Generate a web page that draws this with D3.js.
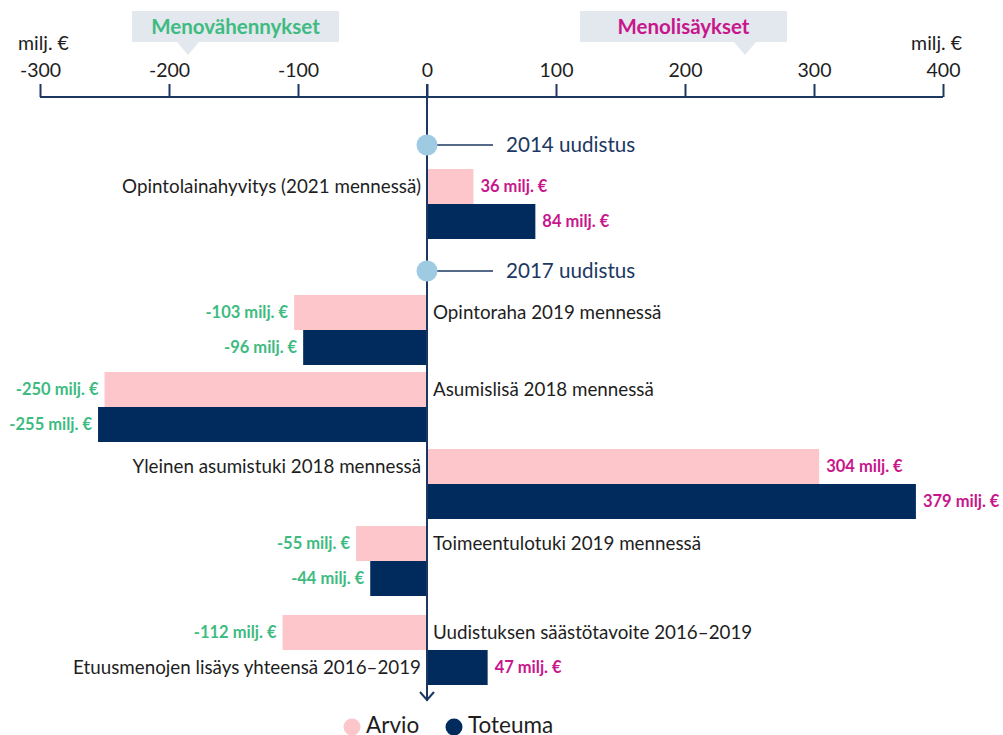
<!DOCTYPE html>
<html>
<head>
<meta charset="utf-8">
<script src="https://cdn.jsdelivr.net/npm/d3@7.9.0/dist/d3.min.js"></script>
<style>
  body { margin: 0; background: #fff; }
  svg { display: block; font-family: Lato, "Open Sans", sans-serif; }
</style>
</head>
<body>
<div id="chart"></div>
<script>
const categories = [
  'Opintolainahyvitys (2021 mennessä)',
  'Opintoraha 2019 mennessä',
  'Asumislisä 2018 mennessä',
  'Yleinen asumistuki 2018 mennessä',
  'Toimeentulotuki 2019 mennessä',
  'Uudistuksen säästötavoite 2016–2019'
];
const arvio = [36, -103, -250, 304, -55, -112];
const toteuma = [84, -96, -255, 379, -44, 47];
const toteumaLabels = [null, null, null, null, null, 'Etuusmenojen lisäys yhteensä 2016–2019'];
const milestones = ['2014 uudistus', '2017 uudistus'];
// which milestone comes before each category (index), or -1
const milestoneBefore = [0, 1, -1, -1, -1, -1];
const xTicks = [-300, -200, -100, 0, 100, 200, 300, 400];
const seriesNames = ['Arvio', 'Toteuma'];

const width = 1003, height = 735;
const colors = { Arvio: '#fdc6cb', Toteuma: '#002b5c' };
const navy = '#1c3862';
const green = '#3dbb80';
const magenta = '#c8168c';
const textCol = '#1e1e1e';

const svg = d3.select('#chart').append('svg')
  .attr('width', width).attr('height', height);

const xScale = d3.scaleLinear().domain([-300, 400]).range([40, 943]);
const axisY = 97;

// header boxes
const boxes = [
  { text: 'Menovähennykset', x0: 132, x1: 339, tip: 188, color: green },
  { text: 'Menolisäykset', x0: 580, x1: 787, tip: 745, color: magenta }
];
boxes.forEach(b => {
  svg.append('rect').attr('x', b.x0).attr('y', 11).attr('width', b.x1 - b.x0).attr('height', 31)
    .attr('fill', '#e3e7ee');
  svg.append('path').attr('d', `M${b.tip - 11},42 L${b.tip},55 L${b.tip + 11},42 Z`).attr('fill', '#e3e7ee');
  svg.append('text').attr('x', (b.x0 + b.x1) / 2).attr('y', 34).attr('text-anchor', 'middle')
    .attr('font-size', 20.5).attr('font-weight', 'bold').attr('fill', b.color).text(b.text);
});

svg.append('text').attr('x', 18).attr('y', 50).attr('font-size', 19.5).attr('fill', textCol).text('milj. €');
svg.append('text').attr('x', 962).attr('y', 50).attr('text-anchor', 'end').attr('font-size', 19.5).attr('fill', textCol).text('milj. €');

// axis
const xAxis = d3.axisTop(xScale).tickValues(xTicks).tickSize(13).tickPadding(7)
  .tickFormat(d => String(d));
const gAxis = svg.append('g').attr('transform', `translate(0,${axisY})`).call(xAxis);
gAxis.select('.domain').attr('d', `M${xScale(-300)},0H${xScale(400)}`).attr('stroke', navy).attr('stroke-width', 2);
gAxis.selectAll('.tick line').attr('stroke', navy).attr('stroke-width', 2);
gAxis.selectAll('.tick text').attr('font-size', 19.5).attr('fill', textCol).attr('font-family', 'Lato, sans-serif');

// vertical layout
const barH = 35;
const band = d3.scaleBand().domain(seriesNames).range([0, barH * 2]);
const layout = [];
let cursor = axisY;
const msPos = [];
categories.forEach((c, i) => {
  if (milestoneBefore[i] >= 0) {
    cursor += (i === 0 ? 48 : 32);
    msPos.push({ label: milestones[milestoneBefore[i]], y: cursor });
    cursor += 24;
  } else {
    cursor += (i === categories.length - 1 ? 19 : 7);
  }
  layout.push(cursor);
  cursor += barH * 2;
});

const x0 = xScale(0);

// zero line
svg.append('line').attr('x1', x0).attr('x2', x0).attr('y1', 84).attr('y2', 701)
  .attr('stroke', navy).attr('stroke-width', 2);
svg.append('path').attr('d', `M${x0 - 7},692 L${x0},700 L${x0 + 7},692`)
  .attr('fill', 'none').attr('stroke', navy).attr('stroke-width', 2);

// bars
const bars = [];
categories.forEach((c, i) => {
  bars.push({ cat: c, i, series: 'Arvio', value: arvio[i], label: c });
  bars.push({ cat: c, i, series: 'Toteuma', value: toteuma[i], label: toteumaLabels[i] });
});

const g = svg.append('g');
g.selectAll('rect.bar').data(bars).join('rect')
  .attr('class', 'bar')
  .attr('x', d => xScale(Math.min(0, d.value)))
  .attr('width', d => Math.abs(xScale(d.value) - x0))
  .attr('y', d => layout[d.i] + band(d.series))
  .attr('height', band.bandwidth())
  .attr('fill', d => colors[d.series]);

// redraw zero line over bars
svg.append('line').attr('x1', x0).attr('x2', x0).attr('y1', layout[0] - 5).attr('y2', 690)
  .attr('stroke', navy).attr('stroke-width', 2);

// value labels
g.selectAll('text.val').data(bars).join('text')
  .attr('class', 'val')
  .attr('x', d => d.value >= 0 ? xScale(d.value) + 7 : xScale(d.value) - 6)
  .attr('y', d => layout[d.i] + band(d.series) + band.bandwidth() / 2)
  .attr('dy', '0.35em')
  .attr('text-anchor', d => d.value >= 0 ? 'start' : 'end')
  .attr('font-size', 16.5).attr('font-weight', 'bold')
  .attr('fill', d => d.value >= 0 ? magenta : green)
  .text(d => `${d.value} milj. €`);

// category labels
g.selectAll('text.cat').data(bars.filter(d => d.label)).join('text')
  .attr('class', 'cat')
  .attr('x', d => d.value >= 0 ? x0 - 6 : x0 + 6)
  .attr('y', d => layout[d.i] + band(d.series) + band.bandwidth() / 2)
  .attr('dy', '0.35em')
  .attr('text-anchor', d => d.value >= 0 ? 'end' : 'start')
  .attr('font-size', 18.8).attr('fill', textCol)
  .text(d => d.label);

// milestones
msPos.forEach(m => {
  svg.append('line').attr('x1', x0).attr('x2', x0 + 66).attr('y1', m.y).attr('y2', m.y)
    .attr('stroke', navy).attr('stroke-width', 1.5);
  svg.append('circle').attr('cx', x0).attr('cy', m.y).attr('r', 10.5).attr('fill', '#9ecae2');
  svg.append('text').attr('x', x0 + 79).attr('y', m.y).attr('dy', '0.35em')
    .attr('font-size', 20.6).attr('fill', navy).text(m.label);
});

// legend
const legend = svg.append('g');
const legendX = [352, 454];
seriesNames.forEach((s, i) => {
  legend.append('circle').attr('cx', legendX[i]).attr('cy', 727).attr('r', 8.5).attr('fill', colors[s]);
  legend.append('text').attr('x', legendX[i] + 14).attr('y', 733).attr('font-size', 22.5)
    .attr('fill', textCol).text(s);
});
</script>
</body>
</html>
